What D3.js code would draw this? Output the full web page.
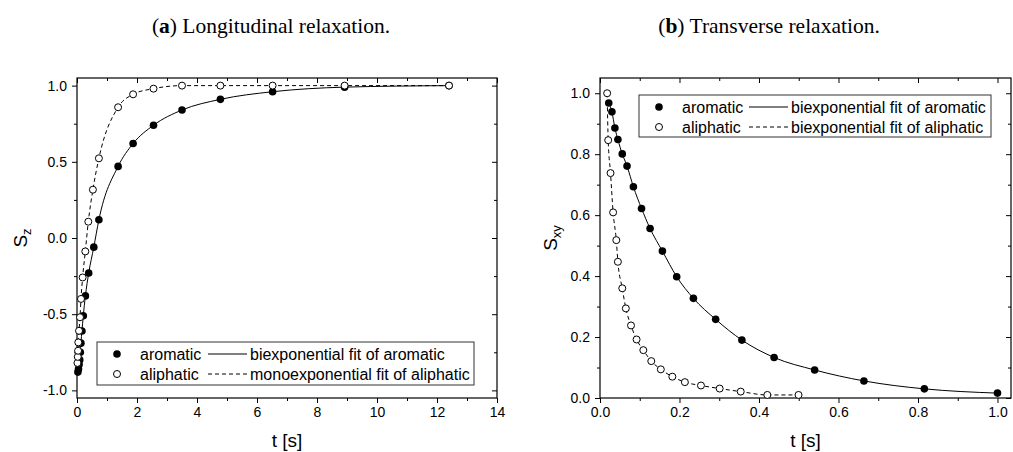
<!DOCTYPE html>
<html><head><meta charset="utf-8">
<script src="https://cdn.jsdelivr.net/npm/d3@7"></script>
<style>
html,body{margin:0;padding:0;background:#fff;}
svg{display:block;}
text{fill:#000;}
</style></head>
<body>
<svg id="chart" width="1013" height="452"></svg>
<script>
// ---------- data ----------
const titleA = ["a", ") Longitudinal relaxation."];
const titleB = ["b", ") Transverse relaxation."];

// (a) longitudinal relaxation, S_z vs t [s]
const longAromT = [0.03,0.05,0.07,0.09,0.11,0.13,0.165,0.21,0.28,0.39,0.56,0.73,1.37,1.87,2.55,3.5,4.78,6.52,8.92,12.4];
const longAromS = [-0.88,-0.86,-0.83,-0.80,-0.75,-0.69,-0.61,-0.51,-0.38,-0.23,-0.06,0.12,0.47,0.62,0.74,0.84,0.91,0.96,0.99,1.0];
const longAliT = [0.015,0.025,0.035,0.043,0.067,0.10,0.133,0.187,0.277,0.377,0.53,0.73,1.37,1.87,2.55,3.5,4.78,6.52,8.92,12.4];
const longAliS = [-0.82,-0.78,-0.74,-0.685,-0.609,-0.52,-0.40,-0.259,-0.088,0.107,0.317,0.523,0.858,0.943,0.98,1.0,1.0,1.0,1.0,1.0];

// (b) transverse relaxation, S_xy vs t [s]
const transAromT = [0.022,0.030,0.0375,0.045,0.056,0.068,0.084,0.1045,0.126,0.157,0.193,0.235,0.291,0.357,0.438,0.540,0.664,0.816,1.0];
const transAromS = [0.968,0.939,0.886,0.848,0.801,0.761,0.693,0.622,0.556,0.482,0.398,0.327,0.258,0.190,0.133,0.092,0.056,0.030,0.016];
const transAliT = [0.018,0.0206,0.0265,0.033,0.041,0.045,0.056,0.065,0.078,0.092,0.109,0.129,0.153,0.182,0.2135,0.254,0.301,0.354,0.421,0.4995];
const transAliS = [1.0,0.846,0.738,0.609,0.518,0.447,0.360,0.294,0.238,0.192,0.157,0.121,0.094,0.070,0.052,0.041,0.031,0.021,0.010,0.010];

// ticks
const aXTicks = [0,2,4,6,8,10,12,14];
const aXLabels = ["0","2","4","6","8","10","12","14"];
const aXMinor = [1,3,5,7,9,11,13];
const aYTicks = [-1.0,-0.5,0.0,0.5,1.0];
const aYLabels = ["-1.0","-0.5","0.0","0.5","1.0"];
const aYMinor = [-0.75,-0.25,0.25,0.75];
const bXTicks = [0,0.2,0.4,0.6,0.8,1.0];
const bXLabels = ["0.0","0.2","0.4","0.6","0.8","1.0"];
const bXMinor = [0.1,0.3,0.5,0.7,0.9];
const bYTicks = [0,0.2,0.4,0.6,0.8,1.0];
const bYLabels = ["0.0","0.2","0.4","0.6","0.8","1.0"];
const bYMinor = [0.1,0.3,0.5,0.7,0.9];

const legendA = ["aromatic","aliphatic","biexponential fit of aromatic","monoexponential fit of aliphatic"];
const legendB = ["aromatic","aliphatic","biexponential fit of aromatic","biexponential fit of aliphatic"];

// ---------- drawing ----------
const svg = d3.select("#chart");
const SANS = "'Liberation Sans', Arial, sans-serif";
const SERIF = "'Liberation Serif', 'Times New Roman', serif";

function title(cx, parts){
  const t = svg.append("text").attr("x",cx).attr("y",33).attr("text-anchor","middle")
    .style("font-family",SERIF).style("font-size","21.5px");
  t.append("tspan").text("(");
  t.append("tspan").style("font-weight","bold").text(parts[0]);
  t.append("tspan").text(parts[1]);
}
title(271, titleA);
title(769, titleB);

function panel(cfg){
  const g = svg.append("g");
  const x = d3.scaleLinear().domain(cfg.xd).range([cfg.l, cfg.r]);
  const y = d3.scaleLinear().domain(cfg.yd).range([cfg.b, cfg.t]);
  const major = 5, minor = 3;

  function styleAxis(sel){
    sel.select(".domain").remove();
    sel.selectAll("line").attr("stroke","#000").attr("stroke-width",1);
    sel.selectAll("text").style("font-family",SANS).style("font-size","14px").attr("fill","#000");
  }
  // bottom
  g.append("g").attr("transform",`translate(0,${cfg.b})`)
    .call(d3.axisBottom(x).tickValues(cfg.xt).tickSize(major).tickPadding(4).tickFormat((d,i)=>cfg.xl[i])).call(styleAxis);
  g.append("g").attr("transform",`translate(0,${cfg.b})`)
    .call(d3.axisBottom(x).tickValues(cfg.xm).tickSize(minor).tickFormat("")).call(styleAxis);
  // top (inward)
  g.append("g").attr("transform",`translate(0,${cfg.t})`)
    .call(d3.axisTop(x).tickValues(cfg.xt).tickSize(-major).tickFormat("")).call(styleAxis);
  g.append("g").attr("transform",`translate(0,${cfg.t})`)
    .call(d3.axisTop(x).tickValues(cfg.xm).tickSize(-minor).tickFormat("")).call(styleAxis);
  // left
  g.append("g").attr("transform",`translate(${cfg.l},0)`)
    .call(d3.axisLeft(y).tickValues(cfg.yt).tickSize(major).tickPadding(5).tickFormat((d,i)=>cfg.yl[i])).call(styleAxis);
  g.append("g").attr("transform",`translate(${cfg.l},0)`)
    .call(d3.axisLeft(y).tickValues(cfg.ym).tickSize(minor).tickFormat("")).call(styleAxis);
  // right (inward)
  g.append("g").attr("transform",`translate(${cfg.r},0)`)
    .call(d3.axisRight(y).tickValues(cfg.yt).tickSize(-major).tickFormat("")).call(styleAxis);
  g.append("g").attr("transform",`translate(${cfg.r},0)`)
    .call(d3.axisRight(y).tickValues(cfg.ym).tickSize(-minor).tickFormat("")).call(styleAxis);
  // frame
  g.append("rect").attr("x",cfg.l).attr("y",cfg.t).attr("width",cfg.r-cfg.l).attr("height",cfg.b-cfg.t)
    .attr("fill","none").attr("stroke","#000").attr("stroke-width",1.2);

  // lines
  const line = d3.line().x(d=>x(d[0])).y(d=>y(d[1])).curve(d3.curveMonotoneX);
  const arom = cfg.aT.map((t,i)=>[t,cfg.aS[i]]);
  const ali = cfg.lT.map((t,i)=>[t,cfg.lS[i]]);
  g.append("path").datum(arom).attr("d",line).attr("fill","none").attr("stroke","#000").attr("stroke-width",1);
  g.append("path").datum(ali).attr("d",line).attr("fill","none").attr("stroke","#000").attr("stroke-width",1)
    .attr("stroke-dasharray","4,3");
  // markers
  g.selectAll(".ar").data(arom).enter().append("circle")
    .attr("cx",d=>x(d[0])).attr("cy",d=>y(d[1])).attr("r",3.8).attr("fill","#000");
  g.selectAll(".al").data(ali).enter().append("circle")
    .attr("cx",d=>x(d[0])).attr("cy",d=>y(d[1])).attr("r",3.5).attr("fill","#fff")
    .attr("stroke","#000").attr("stroke-width",1);

  // axis titles
  svg.append("text").attr("x",(cfg.l+cfg.r)/2).attr("y",447).attr("text-anchor","middle")
    .style("font-family",SANS).style("font-size","19px").text("t [s]");
  const yt = svg.append("text").attr("transform",`translate(${cfg.ytx},${(cfg.t+cfg.b)/2}) rotate(-90)`)
    .attr("text-anchor","middle").style("font-family",SANS).style("font-size","19px");
  yt.append("tspan").text("S");
  yt.append("tspan").attr("dy",4).style("font-size","13px").text(cfg.ysub);

  // legend
  const L = cfg.leg;
  const lg = svg.append("g");
  lg.append("rect").attr("x",L.x).attr("y",L.y).attr("width",L.w).attr("height",L.h)
    .attr("fill","#fff").attr("stroke","#333").attr("stroke-width",1);
  const rows = [L.y+12, L.y+32];
  lg.append("circle").attr("cx",L.x+20).attr("cy",rows[0]).attr("r",3.8).attr("fill","#000");
  lg.append("circle").attr("cx",L.x+20).attr("cy",rows[1]).attr("r",3.5).attr("fill","#fff").attr("stroke","#000");
  [0,1].forEach(i=>{
    lg.append("text").attr("x",L.x+43).attr("y",rows[i]+6).style("font-family",SANS).style("font-size","16px").text(cfg.legText[i]);
    lg.append("line").attr("x1",L.ls).attr("x2",L.ls+39).attr("y1",rows[i]).attr("y2",rows[i])
      .attr("stroke","#000").attr("stroke-width",1).attr("stroke-dasharray",i? "4,3":null);
    lg.append("text").attr("x",L.ls+42).attr("y",rows[i]+6).style("font-family",SANS).style("font-size","16px").text(cfg.legText[i+2]);
  });
}

panel({l:77,r:497,t:78,b:398,xd:[0,14],yd:[-1.05,1.05],
  xt:aXTicks,xl:aXLabels,xm:aXMinor,yt:aYTicks,yl:aYLabels,ym:aYMinor,
  aT:longAromT,aS:longAromS,lT:longAliT,lS:longAliS,ysub:"z",ytx:27,
  leg:{x:97,y:342,w:377,h:43,ls:208},legText:legendA});

panel({l:600,r:1011,t:78,b:398,xd:[0,1.034],yd:[0,1.05],
  xt:bXTicks,xl:bXLabels,xm:bXMinor,yt:bYTicks,yl:bYLabels,ym:bYMinor,
  aT:transAromT,aS:transAromS,lT:transAliT,lS:transAliS,ysub:"xy",ytx:557,
  leg:{x:639,y:95,w:352,h:42,ls:749},legText:legendB});
</script>
</body></html>
